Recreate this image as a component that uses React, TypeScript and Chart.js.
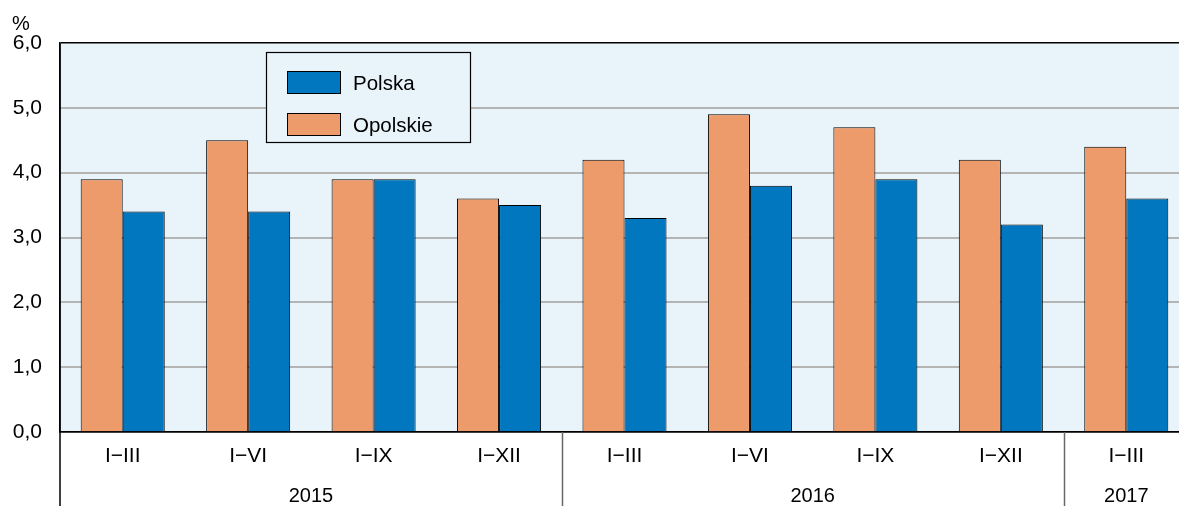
import React, { useEffect, useRef } from "react";
import { Chart, registerables } from "chart.js";

Chart.register(...registerables);

const categories = ["I\u2212III", "I\u2212VI", "I\u2212IX", "I\u2212XII", "I\u2212III", "I\u2212VI", "I\u2212IX", "I\u2212XII", "I\u2212III"];
const opolskie = [3.9, 4.5, 3.9, 3.6, 4.2, 4.9, 4.7, 4.2, 4.4];
const polska = [3.4, 3.4, 3.9, 3.5, 3.3, 3.8, 3.9, 3.2, 3.6];
const years = [
  { label: "2015", from: 0, to: 4 },
  { label: "2016", from: 4, to: 8 },
  { label: "2017", from: 8, to: 9 },
];
const yTicks = [0, 1, 2, 3, 4, 5, 6];

const ORANGE = "#EE9B6C";
const BLUE = "#0077BE";
const BG = "#E8F3FA";
const FONT = "'Liberation Sans', Arial, sans-serif";

const decor = {
  id: "decor",
  beforeDraw(chart: any) {
    const { ctx, chartArea } = chart;
    ctx.save();
    ctx.fillStyle = BG;
    ctx.fillRect(chartArea.left, chartArea.top, chartArea.right - chartArea.left, chartArea.bottom - chartArea.top);
    ctx.restore();
  },
  afterDraw(chart: any) {
    const { ctx, chartArea } = chart;
    const n = categories.length;
    const cw = (chartArea.right - chartArea.left) / n;
    const H = chart.height;
    ctx.save();
    // left axis extension
    ctx.strokeStyle = "#000";
    ctx.lineWidth = 1.5;
    ctx.beginPath();
    ctx.moveTo(chartArea.left, chartArea.top);
    ctx.lineTo(chartArea.left, H);
    ctx.stroke();
    // separators
    ctx.strokeStyle = "#666";
    ctx.lineWidth = 1.5;
    years.forEach((y, i) => {
      if (i === 0) return;
      const sx = Math.round(chartArea.left + y.from * cw) + 0.5;
      ctx.beginPath();
      ctx.moveTo(sx, chartArea.bottom);
      ctx.lineTo(sx, H);
      ctx.stroke();
    });
    // year labels
    ctx.fillStyle = "#000";
    ctx.font = `20px ${FONT}`;
    ctx.textAlign = "center";
    ctx.textBaseline = "alphabetic";
    years.forEach((y) => {
      const cx = chartArea.left + ((y.from + y.to) / 2) * cw;
      ctx.fillText(y.label, cx, 502);
    });
    // % label
    ctx.font = `20px ${FONT}`;
    ctx.fillText("%", 21, 30);
    // legend
    const lx = 266, ly = 52, lw = 204, lh = 90;
    ctx.fillStyle = BG;
    ctx.fillRect(lx, ly, lw, lh);
    ctx.strokeStyle = "#000";
    ctx.lineWidth = 1.2;
    ctx.strokeRect(lx + 0.5, ly + 0.5, lw, lh);
    const items = [
      { label: "Polska", color: BLUE, y: 71 },
      { label: "Opolskie", color: ORANGE, y: 113 },
    ];
    items.forEach((it) => {
      ctx.fillStyle = it.color;
      ctx.fillRect(287, it.y, 53, 22);
      ctx.strokeStyle = "#000";
      ctx.lineWidth = 1;
      ctx.strokeRect(287.5, it.y + 0.5, 53, 22);
      ctx.fillStyle = "#000";
      ctx.font = `20.5px ${FONT}`;
      ctx.textAlign = "left";
      ctx.textBaseline = "alphabetic";
      ctx.fillText(it.label, 353, it.y + 19);
    });
    ctx.restore();
  },
};

export default function App() {
  const ref = useRef<HTMLCanvasElement>(null);
  useEffect(() => {
    document.body.style.margin = "0";
    document.body.style.overflow = "hidden";
    const chart = new Chart(ref.current!, {
      type: "bar",
      data: {
        labels: categories,
        datasets: [
          {
            label: "Opolskie",
            data: opolskie,
            backgroundColor: ORANGE,
            borderColor: "#000",
            borderWidth: 1,
            categoryPercentage: 0.67,
            barPercentage: 1,
          },
          {
            label: "Polska",
            data: polska,
            backgroundColor: BLUE,
            borderColor: "#000",
            borderWidth: 1,
            categoryPercentage: 0.67,
            barPercentage: 1,
          },
        ],
      },
      options: {
        responsive: false,
        animation: false,
        layout: { padding: { top: 43, right: 0, left: 0, bottom: 0 } },
        plugins: { legend: { display: false }, tooltip: { enabled: false } },
        scales: {
          x: {
            grid: { display: false, drawTicks: false },
            border: { display: true, color: "#000", width: 1.5 },
            ticks: { color: "#000", font: { family: FONT, size: 21 }, padding: 12, maxRotation: 0, autoSkip: false },
            afterFit: (s: any) => { s.height = 74; },
          },
          y: {
            min: 0,
            max: 6,
            afterBuildTicks: (s: any) => { s.ticks = yTicks.map((v) => ({ value: v })); },
            grid: {
              drawTicks: false,
              color: (c: any) => (c.tick && (c.tick.value === 6 || c.tick.value === 0) ? "#000" : "#B4B4B4"),
              lineWidth: (c: any) => (c.tick && (c.tick.value === 6 || c.tick.value === 0) ? 1.5 : 2),
            },
            border: { display: true, color: "#000", width: 1.5 },
            ticks: {
              color: "#000",
              font: { family: FONT, size: 21 },
              padding: 18,
              callback: (v: any) => Number(v).toFixed(1).replace(".", ","),
            },
            afterFit: (s: any) => { s.width = 60; },
          },
        },
      },
      plugins: [decor],
    });
    return () => chart.destroy();
  }, []);
  return (
    <div style={{ width: 1179, height: 506, overflow: "hidden", position: "relative" }}>
      <canvas ref={ref} width={1189} height={506} style={{ width: 1189, height: 506, display: "block" }} />
    </div>
  );
}
